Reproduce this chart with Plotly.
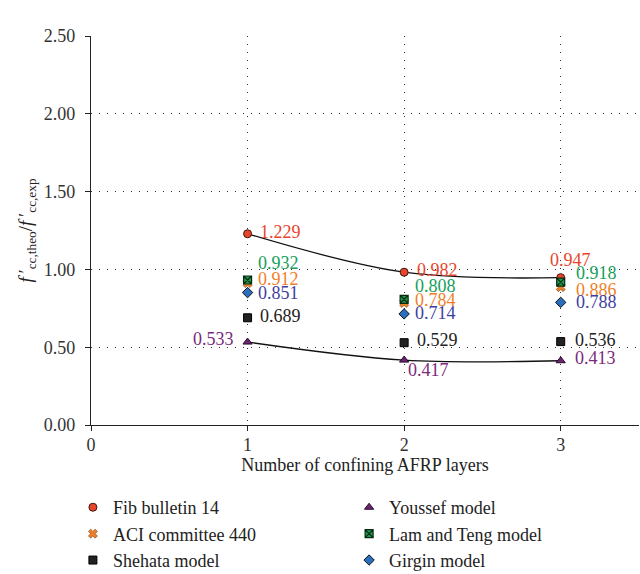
import plotly.graph_objects as go

layers = [1, 2, 3]
fib = [1.229, 0.982, 0.947]
aci = [0.912, 0.784, 0.886]
shehata = [0.689, 0.529, 0.536]
youssef = [0.533, 0.417, 0.413]
lam_teng = [0.932, 0.808, 0.918]
girgin = [0.851, 0.714, 0.788]

x_ticks = [0, 1, 2, 3]
y_ticks = [0, 0.5, 1.0, 1.5, 2.0, 2.5]

FONT = "Liberation Serif"

series = [
    ("Fib bulletin 14", fib, dict(symbol="circle", color="#E8452C", size=8, line=dict(color="#3a1a10", width=1)), "#E8452C", "legend"),
    ("ACI committee 440", aci, dict(symbol="x", color="#F07F2A", size=8, line=dict(color="#5a2a00", width=0.5)), "#F07F2A", "legend"),
    ("Shehata model", shehata, dict(symbol="square", color="#222222", size=8, line=dict(color="#000", width=1)), "#222222", "legend"),
    ("Youssef model", youssef, dict(symbol="triangle-up", color="#6B2470", size=8, line=dict(color="#2a0a2e", width=1)), "#7B2A7E", "legend2"),
    ("Lam and Teng model", lam_teng, dict(symbol="square-x", color="#1E9A50", size=8, line=dict(color="#0a2a10", width=1.2)), "#17A05A", "legend2"),
    ("Girgin model", girgin, dict(symbol="diamond", color="#2A6EC0", size=8, line=dict(color="#111", width=1)), "#3F3FA0", "legend2"),
]

# label placement (pixel offsets) per series per point
offsets = {
    "Fib bulletin 14": [(10, 2, "left"), (11, 2, "left"), (10, 18, "center")],
    "Youssef model": [(-12, 3, "right"), (2, -10, "left"), (12, 3, "left")],
    "ACI committee 440": [(8, 4, "left"), (9, 3, "left"), (13, -3, "left")],
    "Lam and Teng model": [(8, 17, "left"), (9, 13, "left"), (13, 9, "left")],
    "Shehata model": [(10, 2, "left"), (11, 3, "left"), (12, 2, "left")],
    "Girgin model": [(8, 0, "left"), (9, 1, "left"), (13, 0, "left")],
}

fig = go.Figure()

# trend curves
for vals in (fib, youssef):
    fig.add_trace(go.Scatter(x=layers, y=vals, mode="lines",
                             line=dict(color="#111", width=1.3, shape="spline", smoothing=1.0),
                             showlegend=False, hoverinfo="skip"))

annotations = []
for name, vals, marker, tcolor, leg in series:
    fig.add_trace(go.Scatter(x=layers, y=vals, mode="markers", name=name, marker=marker, legend=leg))
    for xi, yi, (dx, dy, anc) in zip(layers, vals, offsets[name]):
        annotations.append(dict(x=xi, y=yi, xref="x", yref="y", text=f"{yi:.3f}",
                                showarrow=False, xanchor=anc, yanchor="middle",
                                xshift=dx, yshift=dy,
                                font=dict(family=FONT, size=18, color=tcolor)))

legfont = dict(family=FONT, size=18, color="#222")
fig.update_layout(
    width=640, height=574,
    margin=dict(l=91, r=1, t=36, b=149),
    paper_bgcolor="white", plot_bgcolor="white",
    font=dict(family=FONT, size=18, color="#222"),
    annotations=annotations,
    legend=dict(orientation="v", x=-0.033, y=0.148, yref="container", xanchor="left", yanchor="top",
                font=legfont, tracegroupgap=0, itemsizing="trace", bgcolor="rgba(0,0,0,0)"),
    legend2=dict(orientation="v", x=0.471, y=0.148, yref="container", xanchor="left", yanchor="top",
                 font=legfont, tracegroupgap=0, itemsizing="trace", bgcolor="rgba(0,0,0,0)"),
)

grid = dict(showgrid=True, gridcolor="#333", griddash="1px,7px", gridwidth=1)
fig.update_xaxes(range=[0, 3.5], tickvals=x_ticks, ticktext=[str(v) for v in x_ticks],
                 showline=True, linecolor="#222", linewidth=1.3,
                 ticks="outside", ticklen=5, tickcolor="#222",
                 zeroline=False, ticklabelstandoff=-2, **grid,
                 title=dict(text="Number of confining AFRP layers", font=dict(family=FONT, size=18), standoff=3),
                 tickfont=dict(family=FONT, size=18, color="#333"))
fig.update_yaxes(range=[0, 2.5], tickvals=y_ticks, tickformat=".2f",
                 showline=True, linecolor="#222", linewidth=1.3,
                 ticks="outside", ticklen=5, tickcolor="#222",
                 zeroline=False, ticklabelstandoff=6, **grid,
                 title=dict(text="<i>f</i>\u2009′<sub>cc,theo</sub>/<i>f</i>\u2009′<sub>cc,exp</sub>",
                            font=dict(family=FONT, size=19), standoff=6),
                 tickfont=dict(family=FONT, size=18, color="#333"))

fig.write_html("out.html")
